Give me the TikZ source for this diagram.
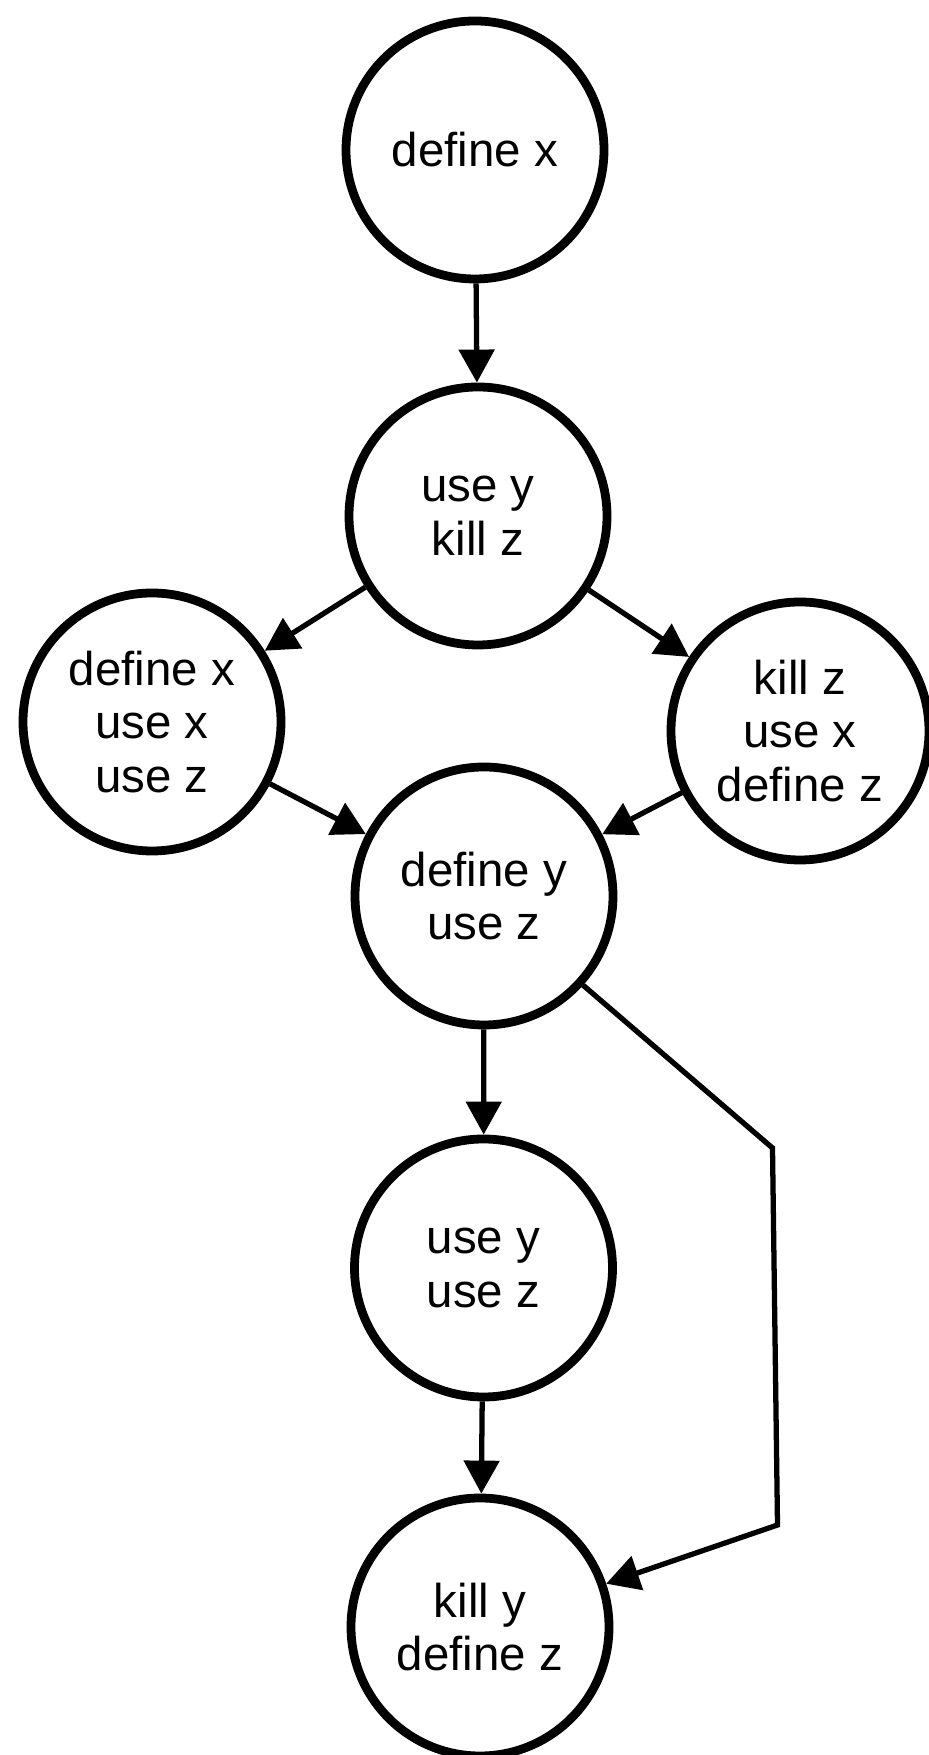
\documentclass[tikz,border=0pt]{standalone}
\usepackage{fontspec}
\setmainfont{Liberation Sans}
\usetikzlibrary{arrows.meta}

\begin{document}
\begin{tikzpicture}[font=\fontsize{27}{30.5}\selectfont,
  blk/.style={draw,circle,line width=5pt,minimum size=5.16cm,inner sep=0pt,align=center},
  flow/.style={-{Triangle[length=6.6mm,width=7mm]},line width=3pt}]
  \useasboundingbox (0,0) rectangle (18.56,35.10);
  \node[blk] (defx) at (9.50,32.10) {define x};
  \node[blk] (usey) at (9.56,24.78) {use y\\kill z};
  \node[blk] (left) at (3.04,20.66) {define x\\use x\\use z};
  \node[blk] (right) at (16.00,20.48) {kill z\\use x\\define z};
  \node[blk] (defy) at (9.68,17.18) {define y\\use z};
  \node[blk] (useyz) at (9.67,9.74) {use y\\use z};
  \node[blk] (killy) at (9.60,2.56) {kill y\\define z};
  \draw[flow] (defx)--(usey);
  \draw[flow] (usey)--(left); \draw[flow] (usey)--(right);
  \draw[flow] (left)--(defy); \draw[flow] (right)--(defy);
  \draw[flow] (defy)--(useyz); \draw[flow] (useyz)--(killy);
  % bypass on the right
  \coordinate (bendA) at (15.45,12.14);
  \coordinate (bendB) at (15.55,4.60);
  \draw[flow] (defy.-42)--(bendA)--(bendB)--(killy);
\end{tikzpicture}
\end{document}
